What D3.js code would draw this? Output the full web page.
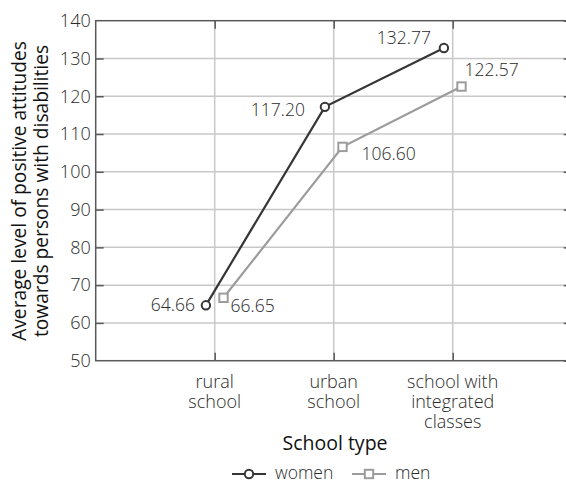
<!DOCTYPE html>
<html><head><meta charset="utf-8">
<script src="https://cdn.jsdelivr.net/npm/d3@7"></script>
<style>
html,body{margin:0;padding:0;background:#fff;}
text{font-family:"Open Sans",sans-serif;font-weight:300;}
text.title{font-weight:400;}
</style></head>
<body>
<svg id="c" width="566" height="483"></svg>
<script>
const categories = [["rural","school"],["urban","school"],["school with","integrated","classes"]];
const women = [64.66, 117.20, 132.77];
const men = [66.65, 106.60, 122.57];
const yTicks = [50,60,70,80,90,100,110,120,130,140];
const seriesNames = ["women","men"];

const svg = d3.select("#c");
const pL = 95.7, pR = 571.7, pT = 20.7, pB = 360.7;
const x = d3.scaleLinear().domain([0,4]).range([pL,pR]);
const y = d3.scaleLinear().domain([50,140]).range([pB,pT]);
const gridC = "#c8c8c8", axisC = "#595959";
const womenC = "#363636", menC = "#9c9c9c";
const txtC = "#2a2a2a";
const off = 0.074;

// grid
const g = svg.append("g");
g.selectAll(".hg").data(yTicks.slice(1,-1)).join("line")
  .attr("x1",pL).attr("x2",pR).attr("y1",d=>y(d)).attr("y2",d=>y(d))
  .attr("stroke",gridC).attr("stroke-width",1.5);
g.selectAll(".vg").data(categories).join("line")
  .attr("x1",(d,i)=>x(i+1)).attr("x2",(d,i)=>x(i+1)).attr("y1",pT).attr("y2",pB)
  .attr("stroke",gridC).attr("stroke-width",1.5);

// axes with inward ticks
const yAxisL = d3.axisLeft(y).tickValues(yTicks).tickSize(-8).tickPadding(5);
const yAxisR = d3.axisRight(y).tickValues(yTicks).tickSize(-8).tickFormat("");
const xAxisB = d3.axisBottom(x).tickValues([1,2,3]).tickSize(-8).tickFormat("");
const xAxisT = d3.axisTop(x).tickValues([1,2,3]).tickSize(-8).tickFormat("");
function style(sel){
  sel.select(".domain").remove();
  sel.selectAll(".tick line").attr("stroke",axisC).attr("stroke-width",1.5);
  sel.selectAll(".tick text").attr("fill",txtC).attr("font-size",18).attr("font-family","Open Sans");
}
svg.append("g").attr("transform",`translate(${pL},0)`).call(yAxisL).call(style)
  .call(s=>s.selectAll(".tick").filter(d=>d===50||d===140).select("line").remove());
svg.append("g").attr("transform",`translate(${pR},0)`).call(yAxisR).call(style);
svg.append("g").attr("transform",`translate(0,${pB})`).call(xAxisB).call(style);
svg.append("g").attr("transform",`translate(0,${pT})`).call(xAxisT).call(style);
svg.append("rect").attr("x",pL).attr("y",pT).attr("width",pR-pL).attr("height",pB-pT)
  .attr("fill","none").attr("stroke",axisC).attr("stroke-width",1.5);

// category labels
const cl = svg.append("g");
categories.forEach((lines,i)=>{
  const t = cl.append("text").attr("text-anchor","middle").attr("font-size",18).attr("fill",txtC)
    .attr("x",x(i+1)).attr("y",388);
  lines.forEach((ln,j)=>t.append("tspan").attr("x",x(i+1)).attr("dy",j?20:0).text(ln));
});

// axis titles
svg.append("text").attr("class","title").attr("x",335).attr("y",450).attr("text-anchor","middle").attr("font-size",19.5).attr("fill","#111").text("School type");
const yt = svg.append("text").attr("class","title").attr("transform","translate(26,191) rotate(-90)").attr("text-anchor","middle").attr("font-size",19.2).attr("fill","#111");
yt.append("tspan").attr("x",0).attr("dy",0).text("Average level of positive attitudes");
yt.append("tspan").attr("x",0).attr("dy",21.5).text("towards persons with disabilities");

// lines
const lineW = d3.line().x((d,i)=>x(i+1-off)).y(d=>y(d));
const lineM = d3.line().x((d,i)=>x(i+1+off)).y(d=>y(d));
svg.append("path").datum(women).attr("d",lineW).attr("fill","none").attr("stroke",womenC).attr("stroke-width",2.2);
svg.append("path").datum(men).attr("d",lineM).attr("fill","none").attr("stroke",menC).attr("stroke-width",2.2);
svg.selectAll(".wm").data(women).join("circle").attr("cx",(d,i)=>x(i+1-off)).attr("cy",d=>y(d)).attr("r",4.2)
  .attr("fill","#fff").attr("stroke",womenC).attr("stroke-width",2);
svg.selectAll(".mm").data(men).join("rect").attr("x",(d,i)=>x(i+1+off)-4.2).attr("y",d=>y(d)-4.2).attr("width",8.4).attr("height",8.4)
  .attr("fill","#fff").attr("stroke",menC).attr("stroke-width",2);

// value labels
const wLab = [{dx:-11,dy:6,a:"end"},{dx:-20,dy:9,a:"end"},{dx:-13,dy:-4,a:"end"}];
const mLab = [{dx:7,dy:14,a:"start"},{dx:19,dy:13,a:"start"},{dx:3,dy:-11,a:"start"}];
svg.selectAll(".wl").data(women).join("text").attr("font-size",17.5).attr("fill",txtC)
  .attr("text-anchor",(d,i)=>wLab[i].a).attr("x",(d,i)=>x(i+1-off)+wLab[i].dx).attr("y",(d,i)=>y(d)+wLab[i].dy).text(d=>d.toFixed(2));
svg.selectAll(".ml").data(men).join("text").attr("font-size",17.5).attr("fill",txtC)
  .attr("text-anchor",(d,i)=>mLab[i].a).attr("x",(d,i)=>x(i+1+off)+mLab[i].dx).attr("y",(d,i)=>y(d)+mLab[i].dy).text(d=>d.toFixed(2));

// legend
const leg = svg.append("g");
const legX = [232, 352];
seriesNames.forEach((n,i)=>{
  const c = i?menC:womenC, lx = legX[i], ly = 474;
  leg.append("line").attr("x1",lx).attr("x2",lx+34).attr("y1",ly).attr("y2",ly).attr("stroke",c).attr("stroke-width",2.2);
  if(i===0) leg.append("circle").attr("cx",lx+17).attr("cy",ly).attr("r",4.2).attr("fill","#fff").attr("stroke",c).attr("stroke-width",2);
  else leg.append("rect").attr("x",lx+17-4.2).attr("y",ly-4.2).attr("width",8.4).attr("height",8.4).attr("fill","#fff").attr("stroke",c).attr("stroke-width",2);
  leg.append("text").attr("x",lx+43).attr("y",ly+5).attr("font-size",17.5).attr("fill",txtC).text(n);
});
</script>
</body></html>
